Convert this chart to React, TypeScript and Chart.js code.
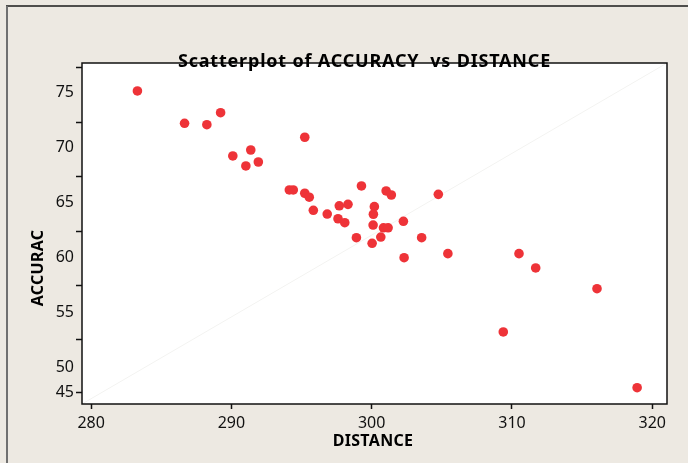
import React, { useEffect, useRef } from "react";
import { Chart, registerables } from "chart.js";

Chart.register(...registerables);

const distance = [
  283.3, 286.66, 288.25, 289.23, 290.1, 291.38, 291.03, 291.92, 295.23, 294.13,
  294.41, 295.23, 295.55, 295.84, 296.83, 297.69, 298.31, 297.6, 298.08, 299.27,
  298.91, 300.19, 300.12, 300.1, 300.03, 300.65, 300.84, 301.17, 301.03, 301.4,
  302.26, 302.31, 303.56, 304.75, 305.43, 309.38, 310.5, 311.69, 316.06, 318.92,
];
const accuracy = [
  75.14, 72.2, 72.07, 73.16, 69.23, 69.77, 68.32, 68.68, 70.93, 66.14,
  66.14, 65.84, 65.48, 64.29, 63.95, 64.7, 64.83, 63.52, 63.16, 66.5,
  61.8, 64.62, 63.93, 62.95, 61.29, 61.86, 62.7, 62.7, 66.05, 65.68,
  63.29, 59.98, 61.8, 65.74, 60.35, 53.23, 60.35, 59.05, 57.16, 48.16,
];

const xTickValues = [280, 290, 300, 310, 320];
const yLabelValues = [75, 70, 65, 60, 55, 50, 47.75];
const yLabelTexts = ["75", "70", "65", "60", "55", "50", "45"];
const yMarkValues = [77.25, 72.3, 67.35, 62.4, 57.45, 52.55, 47.75];

const xMin = 279.35;
const xMax = 321.05;
const yMin = 46.68;
const yMax = 77.68;

const titleText = "Scatterplot of ACCURACY  vs DISTANCE";
const xTitle = "DISTANCE";
const yTitle = "ACCURAC";

const BG = "#ede9e2";

export default function App() {
  const ref = useRef<HTMLCanvasElement>(null);

  useEffect(() => {
    const canvas = ref.current;
    if (!canvas) return;

    const allY = Array.from(new Set([...yLabelValues, ...yMarkValues])).sort((a, b) => b - a);

    const deco = {
      id: "deco",
      beforeDraw(chart: any) {
        const { ctx, chartArea: a } = chart;
        ctx.save();
        ctx.fillStyle = BG;
        ctx.fillRect(0, 0, chart.width, chart.height);
        ctx.fillStyle = "#ffffff";
        ctx.fillRect(a.left, a.top, a.right - a.left, a.bottom - a.top);
        ctx.strokeStyle = "#1a1a1a";
        ctx.lineWidth = 1.5;
        ctx.beginPath();
        ctx.moveTo(6, 6);
        ctx.lineTo(chart.width, 6);
        ctx.stroke();
        ctx.strokeStyle = "#707070";
        ctx.lineWidth = 2;
        ctx.beginPath();
        ctx.moveTo(7, 6);
        ctx.lineTo(7, chart.height);
        ctx.stroke();
        ctx.restore();
      },
      afterDraw(chart: any) {
        const { ctx, chartArea: a } = chart;
        ctx.save();
        ctx.strokeStyle = "#111111";
        ctx.lineWidth = 1.5;
        ctx.strokeRect(a.left, a.top, a.right - a.left, a.bottom - a.top);
        ctx.fillStyle = "#000000";
        ctx.textAlign = "center";
        ctx.textBaseline = "middle";
        ctx.font = "bold 18px 'Noto Sans'";
        try {
          (ctx as any).letterSpacing = "0.8px";
        } catch (e) {}
        ctx.fillText(titleText, 364.5, 62);
        try {
          (ctx as any).letterSpacing = "0.3px";
        } catch (e) {}
        ctx.font = "bold 16px 'Noto Sans'";
        ctx.fillText(xTitle, 373, 441);
        ctx.translate(38, 268);
        ctx.rotate(-Math.PI / 2);
        ctx.fillText(yTitle, 0, 0);
        ctx.restore();
      },
    };

    const chart = new Chart(canvas, {
      type: "scatter",
      data: {
        datasets: [
          {
            type: "scatter",
            data: distance.map((d, i) => ({ x: d, y: accuracy[i] })),
            backgroundColor: "#ee3338",
            borderColor: "#ee3338",
            borderWidth: 0,
            pointRadius: 4.8,
            order: 0,
          },
          {
            type: "line",
            data: [
              { x: xMin, y: yMin },
              { x: xMax, y: yMax },
            ],
            borderColor: "#f3f3f1",
            borderWidth: 1,
            pointRadius: 0,
            order: 1,
          } as any,
        ],
      },
      options: {
        responsive: false,
        animation: false,
        devicePixelRatio: 1,
        layout: { padding: { top: 63, right: 21, left: 0, bottom: 0 } },
        plugins: {
          legend: { display: false },
          tooltip: { enabled: false },
          title: { display: false },
        },
        scales: {
          x: {
            type: "linear",
            min: xMin,
            max: xMax,
            afterBuildTicks: (axis: any) => {
              axis.ticks = xTickValues.map((v) => ({ value: v }));
            },
            afterFit: (axis: any) => {
              axis.height = 59;
            },
            border: { display: false },
            grid: {
              display: true,
              drawOnChartArea: false,
              drawTicks: true,
              tickLength: 5,
              tickColor: "#111111",
              tickWidth: 1.5,
            },
            ticks: {
              autoSkip: false,
              maxRotation: 0,
              padding: 5,
              color: "#111111",
              font: { family: "'Noto Sans'", size: 16 },
              callback: (v: any) => String(v),
            },
          },
          y: {
            type: "linear",
            min: yMin,
            max: yMax,
            afterBuildTicks: (axis: any) => {
              axis.ticks = allY.map((v) => ({ value: v }));
            },
            afterFit: (axis: any) => {
              axis.width = 82;
            },
            border: { display: false },
            grid: {
              display: true,
              drawOnChartArea: false,
              drawTicks: true,
              tickLength: 6,
              tickWidth: 1.5,
              tickColor: (ctx: any) =>
                ctx.tick && yMarkValues.includes(ctx.tick.value) ? "#111111" : "rgba(0,0,0,0)",
            },
            ticks: {
              autoSkip: false,
              padding: 2,
              color: "#111111",
              font: { family: "'Noto Sans'", size: 16 },
              callback: (v: any) => {
                const i = yLabelValues.indexOf(v);
                return i >= 0 ? yLabelTexts[i] : "";
              },
            },
          },
        },
      },
      plugins: [deco],
    });

    return () => chart.destroy();
  }, []);

  return (
    <div style={{ position: "absolute", left: 0, top: 0 }}>
      <canvas ref={ref} width={688} height={463} style={{ display: "block" }} />
    </div>
  );
}
